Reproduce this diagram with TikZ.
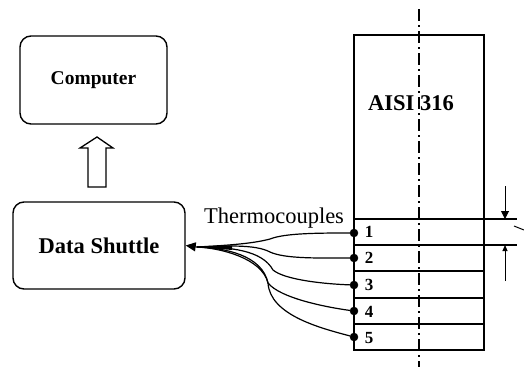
\documentclass[tikz,border=0pt]{standalone}
\usepackage{fontspec}
\setmainfont{Liberation Serif}
\usetikzlibrary{calc}
\usetikzlibrary{arrows.meta}

\tikzset{
    unitbox/.style={draw, rounded corners=11pt, line width=1.4pt, inner sep=0pt},
    wire/.style={line width=1.2pt},
    junction/.style={draw, circle, fill=black, inner sep=0pt, minimum size=8pt},
    slice/.style={line width=1.5pt},
    number/.style={font=\fontsize{17}{17}\selectfont\bfseries, inner sep=0pt}
}

\begin{document}
\begin{tikzpicture}[x=1pt, y=-1pt]
    \useasboundingbox (0, 0) rectangle (524, 367);

    \node[unitbox, minimum width=147pt, minimum height=88pt, font=\fontsize{19.5}{20}\selectfont\bfseries] (computer) at (93.5, 80) {Computer};
    \node[unitbox, minimum width=172pt, minimum height=87pt, font=\fontsize{22.5}{23}\selectfont\bfseries] (shuttle) at (99, 245.5) {Data Shuttle};

    \draw[line width=1.3pt] (88, 187) -- (88, 148) -- (80, 148) -- (97, 137) -- (113, 148) -- (106, 148) -- (106, 187) -- cycle;

    \coordinate (coltl) at (354, 35);
    \coordinate (coltr) at (484, 35);
    \coordinate (colbl) at (354, 350);
    \coordinate (colbr) at (484, 350);
    \draw[slice] (coltl) -- (colbl) -- (colbr) -- (coltr) -- cycle;

    \node[font=\fontsize{22.5}{23}\selectfont\bfseries, inner sep=0pt] (steel) at (411, 103) {AISI 316};
    \node[font=\fontsize{22.5}{23}\selectfont, inner sep=0pt] (thermo) at (274, 218) {Thermocouples};

    \coordinate (centre1) at (419, 9);
    \coordinate (centre2) at (419, 367);
    \draw[line width=1.2pt, dash pattern=on 12pt off 4pt on 2pt off 4pt] (centre1) -- (centre2);

    % slices
    \coordinate (s1) at (354, 219);
    \coordinate (s2) at (354, 245);
    \coordinate (s3) at (354, 271);
    \coordinate (s4) at (354, 298);
    \coordinate (s5) at (354, 324);
    \coordinate (e1) at (517, 219);
    \coordinate (e2) at (517, 245);
    \coordinate (e3) at (484, 271);
    \coordinate (e4) at (484, 298);
    \coordinate (e5) at (484, 324);
    \draw[slice] (s1) -- (e1);
    \draw[slice] (s2) -- (e2);
    \draw[slice] (s3) -- (e3);
    \draw[slice] (s4) -- (e4);
    \draw[slice] (s5) -- (e5);

    % thermocouple points
    \node[junction] (w1) at (354, 233) {};
    \node[junction] (w2) at (354, 258) {};
    \node[junction] (w3) at (354, 285) {};
    \node[junction] (w4) at (354, 311) {};
    \node[junction] (w5) at (354, 337) {};

    \node[number] (n1) at (369, 232) {1};
    \node[number] (n2) at (369, 258) {2};
    \node[number] (n3) at (369, 285) {3};
    \node[number] (n4) at (369, 312) {4};
    \node[number] (n5) at (369, 338) {5};

    \coordinate (hub) at (197, 247);
    \draw[wire] (hub) .. controls (235, 245) and (255, 243) .. (270, 239) .. controls (285, 233) and (320, 233) .. (w1);
    \draw[wire] (hub) .. controls (225, 246) and (255, 244) .. (270, 252) .. controls (285, 259) and (320, 258) .. (w2);
    \draw[wire] (hub) .. controls (230, 247) and (262, 250) .. (273, 270) .. controls (285, 280) and (325, 284) .. (w3);
    \draw[wire] (hub) .. controls (225, 248) and (262, 255) .. (268, 283) .. controls (280, 298) and (325, 307) .. (w4);
    \draw[wire] (hub) .. controls (220, 248) and (262, 258) .. (268, 283) .. controls (270, 315) and (320, 328) .. (w5);
    \draw[-{Triangle[length=10pt, width=9pt]}, line width=1.2pt] (hub) -- (shuttle.east);
    \fill (hub) -- (232, 245.5) -- (232, 250) -- cycle;

    % dimension
    \coordinate (d1) at (505, 186);
    \coordinate (d2) at (505, 219);
    \coordinate (d3) at (505, 281);
    \coordinate (d4) at (505, 245);
    \draw[-{Triangle[length=8pt, width=8pt]}, line width=1pt] (d1) -- (d2);
    \draw[-{Triangle[length=6pt, width=5pt]}, line width=1pt] (d3) -- (d4);

    \coordinate (m1) at (514, 226);
    \coordinate (m2) at (524, 230);
    \draw[line width=1pt] (m1) -- (m2);
\end{tikzpicture}
\end{document}
